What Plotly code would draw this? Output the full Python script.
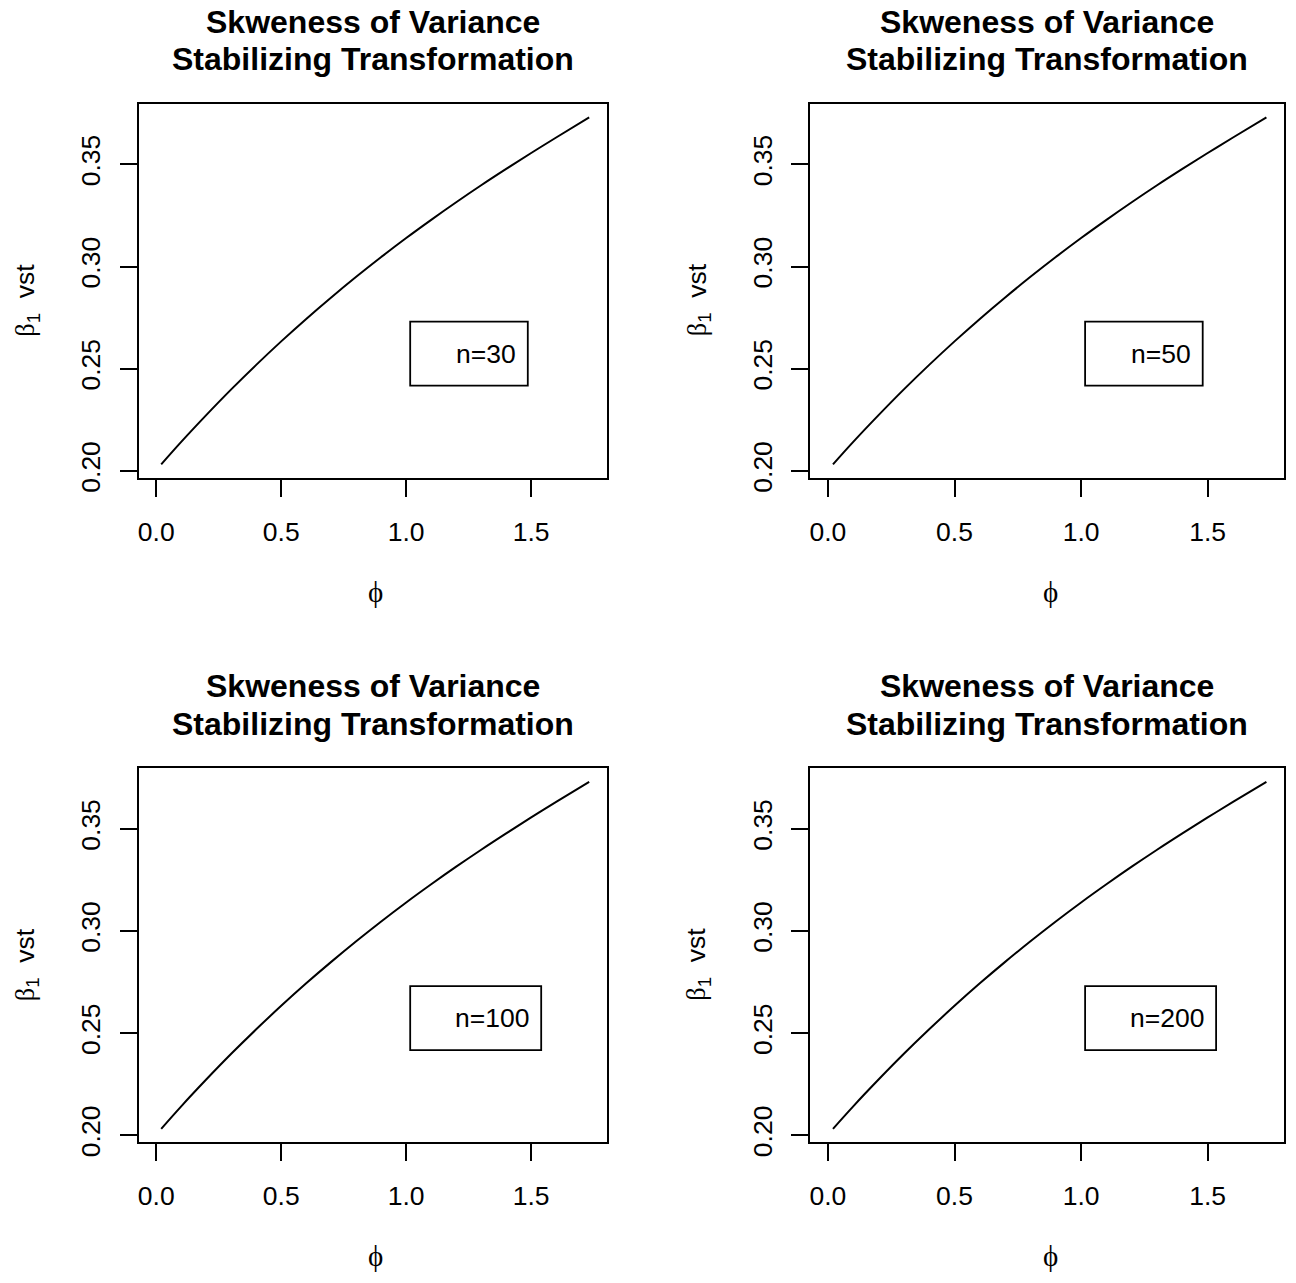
import plotly.graph_objects as go

# phi grid and skewness of the variance-stabilized statistic
phi = [0.02, 0.1, 0.2, 0.3, 0.4, 0.5, 0.6, 0.7, 0.8, 0.9, 1.0,
       1.1, 1.2, 1.3, 1.4, 1.5, 1.6, 1.732]
beta1_vst = [0.2032, 0.2142, 0.2273, 0.2399, 0.2519, 0.2634, 0.2744,
             0.2849, 0.2950, 0.3047, 0.3140, 0.3229, 0.3315, 0.3398,
             0.3478, 0.3556, 0.3632, 0.3730]

sample_sizes = ["n=30", "n=50", "n=100", "n=200"]
x_ticks = [0.0, 0.5, 1.0, 1.5]
y_ticks = [0.20, 0.25, 0.30, 0.35]

title_lines = ["Skweness of Variance", "Stabilizing Transformation"]
SANS = "Liberation Sans, Arial, sans-serif"
SERIF = "Liberation Serif, DejaVu Serif, serif"
BASE = 26.5

W, H = 1296, 1283
# plot boxes in pixels: (left, right, top, bottom)
boxes = [
    (138, 606, 105, 483.7),
    (810, 1284, 105, 483.7),
    (138, 606, 777.3, 1156),
    (810, 1284, 777.3, 1156),
]

x_range = [-0.0693, 1.8014]
y_range = [0.1965, 0.3797]

fig = go.Figure()
annotations = []
shapes = []

for i, (label, (l, r, t, b)) in enumerate(zip(sample_sizes, boxes)):
    k = "" if i == 0 else str(i + 1)
    xa, ya = "x" + k, "y" + k
    fig.add_trace(go.Scatter(
        x=phi, y=beta1_vst, mode="lines", line_shape="spline",
        line=dict(color="black", width=2.0),
        xaxis=xa, yaxis=ya, showlegend=False, hoverinfo="skip",
    ))
    axis_common = dict(
        showline=True, linecolor="black", linewidth=1.8, mirror=True,
        showgrid=False, zeroline=False, ticks="outside", ticklen=17,
        tickwidth=1.8, tickcolor="black",
        tickfont=dict(family=SANS, size=BASE, color="black"),
    )
    fig.update_layout({
        "xaxis" + k: dict(
            axis_common, domain=[l / W, r / W], range=x_range,
            tickvals=x_ticks, tickformat=".1f", anchor=ya,
            ticklabelstandoff=12,
        ),
        "yaxis" + k: dict(
            axis_common, domain=[1 - b / H, 1 - t / H], range=y_range,
            tickvals=y_ticks, tickformat=".2f", anchor=xa,
            tickangle=-90, ticklabelstandoff=9,
        ),
    })
    cx = (l + r) / 2
    cy = (t + b) / 2
    # two-line bold title
    for line, dy in zip(title_lines, (83, 45)):
        annotations.append(dict(
            text="<b>" + line + "</b>", xref="paper", yref="paper",
            x=cx / W, y=1 - (t - dy) / H, xanchor="center", yanchor="middle",
            showarrow=False, font=dict(family=SANS, size=32, color="black"),
        ))
    # x-axis title
    annotations.append(dict(
        text="ϕ", xref="paper", yref="paper",
        x=(cx + 3) / W, y=1 - (b + 115) / H, xanchor="center", yanchor="middle",
        showarrow=False, font=dict(family=SERIF, size=29, color="black"),
    ))
    # y-axis title
    annotations.append(dict(
        text=f'<span style="font-family:{SERIF}">β</span><sub>1</sub>  vst',
        xref="paper", yref="paper",
        x=(l - 112) / W, y=1 - (cy + 9) / H, xanchor="center", yanchor="middle",
        textangle=-90, showarrow=False,
        font=dict(family=SANS, size=BASE, color="black"),
    ))
    # legend-style box with sample size
    box_w = 64 + 13.4 * len(label)
    shapes.append(dict(
        type="rect", xref=xa, yref=ya, xsizemode="pixel", ysizemode="pixel",
        xanchor=1.0, yanchor=0.275, x0=4, x1=4 + box_w, y0=-4, y1=-68,
        line=dict(color="black", width=1.8), fillcolor="rgba(0,0,0,0)",
    ))
    annotations.append(dict(
        text=label, xref=xa, yref=ya, x=1.0, y=0.275,
        xanchor="right", yanchor="middle", xshift=4 + box_w - 10, yshift=-36,
        showarrow=False, font=dict(family=SANS, size=BASE, color="black"),
    ))

fig.update_layout(
    width=W, height=H, margin=dict(l=0, r=0, t=0, b=0),
    paper_bgcolor="white", plot_bgcolor="white",
    annotations=annotations, shapes=shapes,
)

fig.write_html("out.html")
